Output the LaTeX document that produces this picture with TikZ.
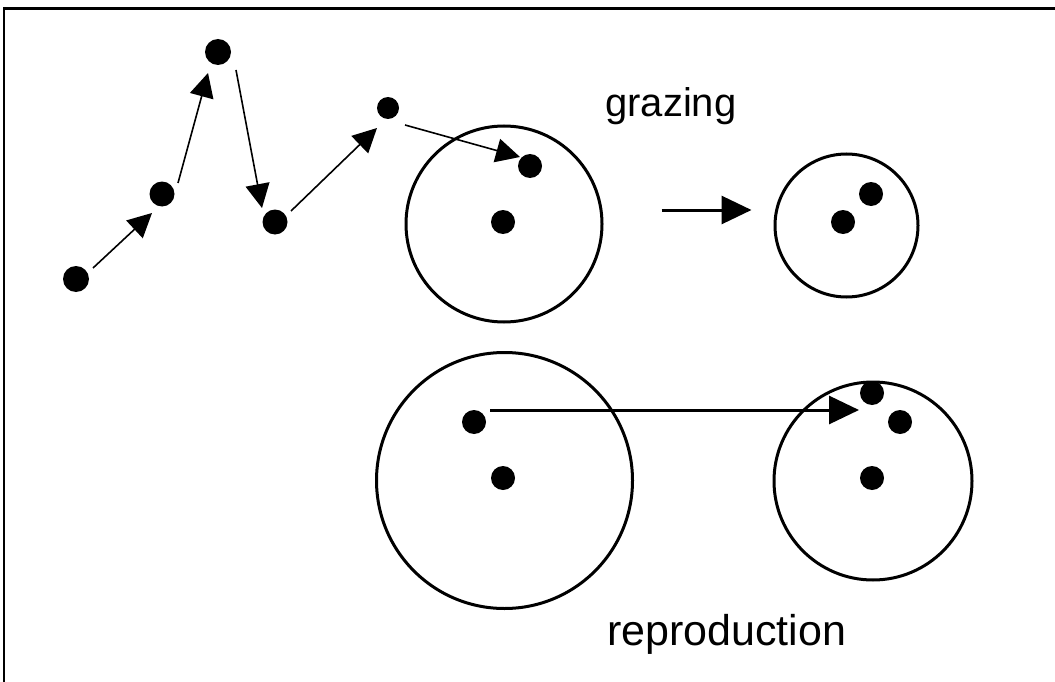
\documentclass[tikz,border=0pt]{standalone}
\usepackage{fontspec}
\setmainfont{Liberation Sans}
\usetikzlibrary{arrows.meta}
\begin{document}
\begin{tikzpicture}[x=1pt,y=-1pt,
  dot/.style={circle,fill=black,inner sep=0pt,minimum size=24pt},
  bigdot/.style={dot,minimum size=26pt},
  ring/.style={circle,draw=black,line width=3pt,inner sep=0pt},
  hop/.style={line width=1.6pt,-{Triangle[length=24pt,width=24pt]}},
  bigarrow/.style={line width=3pt,-{Triangle[length=30pt,width=28pt]}},
  lbl/.style={anchor=base west,inner sep=0pt}]
\useasboundingbox (0,0) rectangle (1055,682);
\fill[white] (0,0) rectangle (1055,682);
\draw[line width=2.8pt] (4,682) -- (4,8.7) -- (1055,8.7);

% circles
\node[ring,minimum size=196pt] (A) at (504,224) {};
\node[ring,minimum size=143pt] (B) at (846.5,225.5) {};
\node[ring,minimum size=256pt] (C) at (504.5,480.5) {};
\node[ring,minimum size=198pt] (D) at (873,481) {};

% path dots
\node[bigdot] (d1) at (76,279) {};
\node[dot,minimum size=25pt] (d2) at (162,194) {};
\node[bigdot] (d3) at (218,52) {};
\node[dot,minimum size=25pt] (d4) at (275,222) {};
\node[dot,minimum size=22pt] (d5) at (388,108) {};
\node[dot] (d6) at (530,166) {};
\node[dot] (a1) at (503,222) {};

% grazing result
\node[dot] (b1) at (843,222) {};
\node[dot] (b2) at (871,194) {};

% reproduction
\node[dot] (c1) at (474,422) {};
\node[dot] (c2) at (503,478) {};
\node[dot] (e1) at (872,393) {};
\node[dot] (e2) at (900,422) {};
\node[dot] (e3) at (872,478) {};

% path arrows
\draw[hop] ([shift={(17,-11)}]d1.center) -- ([shift={(-10,19)}]d2.center);
\draw[hop] ([shift={(16,-11)}]d2.center) -- ([shift={(-10,21)}]d3.center);
\draw[hop] ([shift={(18,18)}]d3.center) -- ([shift={(-13,-14)}]d4.center);
\draw[hop] ([shift={(16,-11)}]d4.center) -- ([shift={(-11,20)}]d5.center);
\draw[hop] ([shift={(17,17)}]d5.center) -- ([shift={(-10,-9)}]d6.center);

% grazing arrow
\draw[bigarrow] ([shift={(58,-14)}]A.east) -- ([shift={(-22,-15.5)}]B.west);

% reproduction arrow
\draw[bigarrow] ([shift={(16,-12)}]c1.center) -- ([shift={(-14,-71)}]D.center);

% labels
\node[lbl,font=\fontsize{40}{48}\selectfont] (g) at (605,117) {grazing};
\node[lbl,font=\fontsize{43}{52}\selectfont] (r) at (607,645) {reproduction};
\end{tikzpicture}
\end{document}
